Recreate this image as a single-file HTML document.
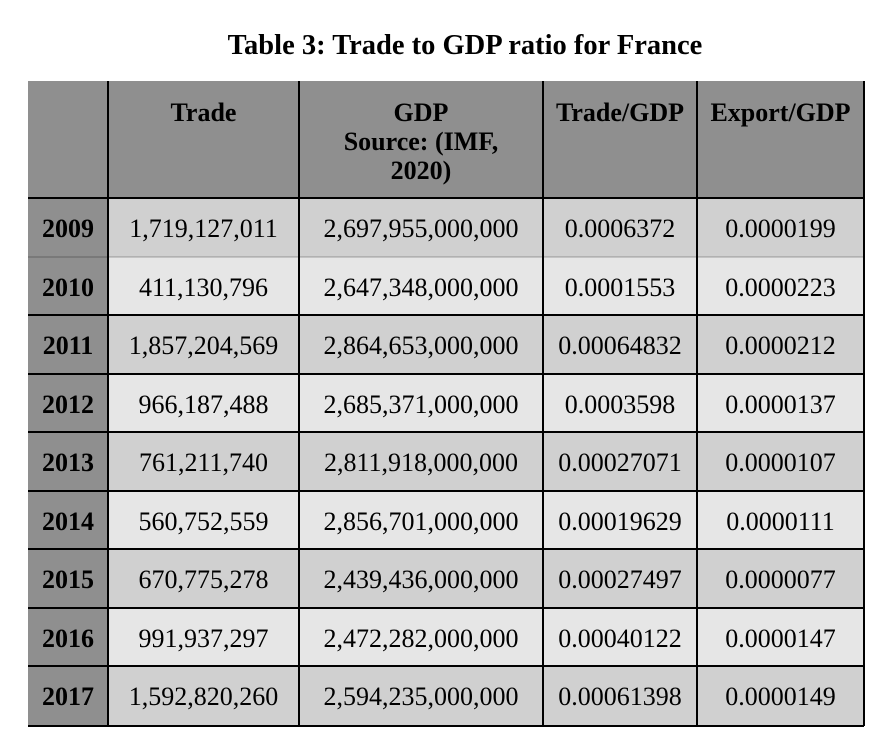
<!DOCTYPE html>
<html><head><style>
body{margin:0;width:894px;height:752px;background:#fff;position:relative;font-family:"Liberation Serif",serif;color:#000;overflow:hidden}
.t{position:absolute;left:0;width:930px;top:30px;text-align:center;font-weight:bold;font-size:28.5px}
.c{position:absolute;box-sizing:border-box;display:flex;align-items:center;justify-content:center;font-size:26px;text-align:center;padding-top:4px}
.h{font-weight:bold;align-items:flex-start;padding-top:17px;line-height:29px;background:#8f8f8f}
.y{font-weight:bold;background:#8f8f8f}
.v{position:absolute;width:2px;background:#000;top:81px;height:645px}
.hl{position:absolute;left:28px;width:836px;height:2px;background:#000}
</style></head><body>
<div class="t">Table 3: Trade to GDP ratio for France</div>
<div id="tbl"></div>
<script>
(function(){
var xs=[28,108,299,543,697,864];
var H='';
var hd=['','Trade','GDP<br>Source: (IMF,<br>2020)','Trade/GDP','Export/GDP'];
for(var i=0;i<5;i++)H+='<div class="c h" style="left:'+xs[i]+'px;top:81px;width:'+(xs[i+1]-xs[i])+'px;height:117px">'+hd[i]+'</div>';
var d=[['2009','1,719,127,011','2,697,955,000,000','0.0006372','0.0000199'],
['2010','411,130,796','2,647,348,000,000','0.0001553','0.0000223'],
['2011','1,857,204,569','2,864,653,000,000','0.00064832','0.0000212'],
['2012','966,187,488','2,685,371,000,000','0.0003598','0.0000137'],
['2013','761,211,740','2,811,918,000,000','0.00027071','0.0000107'],
['2014','560,752,559','2,856,701,000,000','0.00019629','0.0000111'],
['2015','670,775,278','2,439,436,000,000','0.00027497','0.0000077'],
['2016','991,937,297','2,472,282,000,000','0.00040122','0.0000147'],
['2017','1,592,820,260','2,594,235,000,000','0.00061398','0.0000149']];
for(var r=0;r<9;r++){var ty=198+r*58.5;
for(var i=0;i<5;i++){var bg=i==0?'#8f8f8f':(r%2==0?'#d0d0d0':'#e6e6e6');
H+='<div class="c'+(i==0?' y':'')+'" style="left:'+xs[i]+'px;top:'+ty+'px;width:'+(xs[i+1]-xs[i])+'px;height:58.5px;background:'+bg+'">'+d[r][i]+'</div>';}
if(r>=1)H+='<div class="hl" style="top:'+(ty-1)+'px;opacity:'+(r==1?0.15:1)+'"></div>';}
H+='<div class="hl" style="top:197px"></div><div class="hl" style="top:725px"></div>';
for(var i=1;i<6;i++)H+='<div class="v" style="left:'+(xs[i]-1)+'px"></div>';
document.getElementById('tbl').innerHTML=H;
})();
</script>
</body></html>
